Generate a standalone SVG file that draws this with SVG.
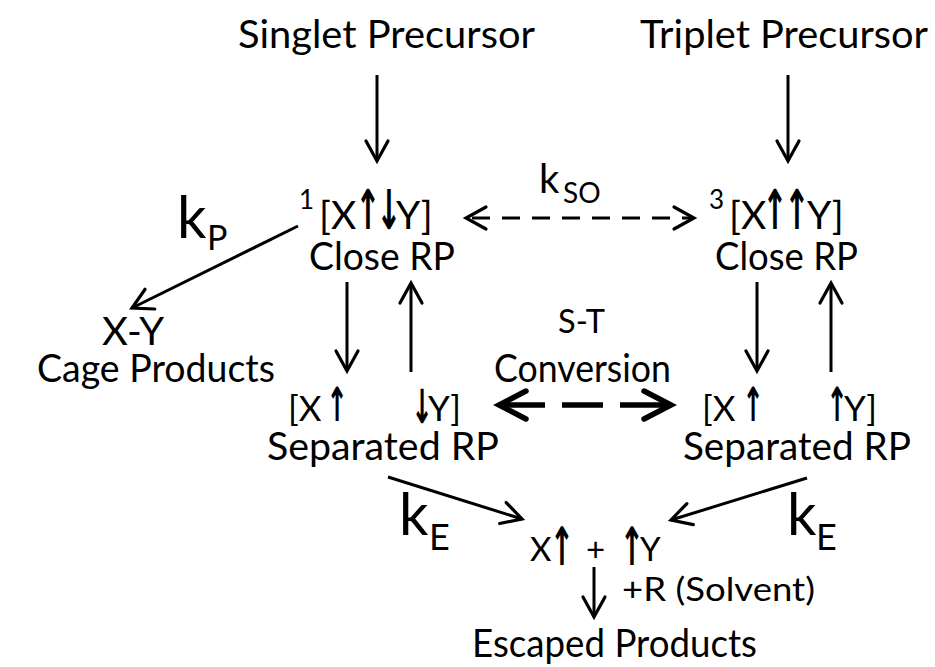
<svg xmlns="http://www.w3.org/2000/svg" width="935" height="667" viewBox="0 0 935 667">
<defs>
<style>
text{font-family:Lato,'Liberation Sans',sans-serif;fill:#000}
.lbl{font-size:38px}
.f{font-size:39px}
.s{font-size:35px}
.sup{font-size:26px}
.sp{font-family:'DejaVu Sans',sans-serif;font-weight:bold;text-anchor:middle}
.sp1{font-size:55px}
.sp2{font-size:47px}
.sp3{font-size:53px}
.ln{stroke:#000;stroke-width:3;fill:none}
.bd{stroke:#000;stroke-width:5.5;fill:none}
.ah{stroke:#000;fill:none;stroke-width:3.2;stroke-linecap:round;stroke-linejoin:miter}
.ahb{stroke:#000;fill:none;stroke-width:5.5;stroke-linecap:round;stroke-linejoin:miter}
</style>
<marker id="a" markerUnits="userSpaceOnUse" markerWidth="40" markerHeight="40" viewBox="-30 -20 40 40" refX="0" refY="0" orient="auto-start-reverse" overflow="visible"><path class="ah" d="M-20,-11 L0,0 L-20,11"/></marker>
<marker id="b" markerUnits="userSpaceOnUse" markerWidth="50" markerHeight="50" viewBox="-40 -25 50 50" refX="0" refY="0" orient="auto-start-reverse" overflow="visible"><path class="ahb" d="M-27,-14 L0,0 L-27,14"/></marker>
</defs>
<rect width="935" height="667" fill="#fff"/>

<g id="connectors">
<line class="ln" x1="377" y1="75" x2="377" y2="161" marker-end="url(#a)"/>
<line class="ln" x1="788" y1="75" x2="788" y2="161" marker-end="url(#a)"/>
<line class="ln" x1="466" y1="218" x2="694" y2="218" stroke-dasharray="18 12" stroke-dashoffset="-6" marker-start="url(#a)" marker-end="url(#a)"/>
<line class="ln" x1="298" y1="226" x2="132" y2="308" marker-end="url(#a)"/>
<line class="ln" x1="347" y1="282" x2="347" y2="371" marker-end="url(#a)"/>
<line class="ln" x1="411" y1="372" x2="411" y2="283" marker-end="url(#a)"/>
<line class="ln" x1="757" y1="282" x2="757" y2="371" marker-end="url(#a)"/>
<line class="ln" x1="831" y1="372" x2="831" y2="283" marker-end="url(#a)"/>
<path class="bd" d="M499,405 H545 M562,405 H603 M620,405 H671" marker-start="url(#b)" marker-end="url(#b)"/>
<line class="ln" x1="388" y1="477" x2="522" y2="519" marker-end="url(#a)"/>
<line class="ln" x1="807" y1="478" x2="671" y2="520" marker-end="url(#a)"/>
<line class="ln" x1="594" y1="567" x2="594" y2="617" marker-end="url(#a)"/>
</g>

<g id="singlet-precursor"><text class="lbl" x="238" y="48" textLength="297" lengthAdjust="spacingAndGlyphs">Singlet Precursor</text></g>
<g id="triplet-precursor"><text class="lbl" x="640" y="48" textLength="288" lengthAdjust="spacingAndGlyphs">Triplet Precursor</text></g>

<g id="singlet-close-rp">
<text class="sup" x="299" y="209">1</text>
<text class="f" x="319" y="229">[X</text>
<text class="sp sp1" transform="translate(368,229) scale(0.55,1)">↑</text>
<text class="sp sp1" transform="translate(389,229) scale(0.55,1)">↓</text>
<text class="f" x="396" y="229">Y]</text>
<text class="lbl" x="309" y="270" textLength="146" lengthAdjust="spacingAndGlyphs">Close RP</text>
</g>

<g id="triplet-close-rp">
<text class="sup" x="709" y="209">3</text>
<text class="f" x="729" y="229">[X</text>
<text class="sp sp1" transform="translate(775,229) scale(0.55,1)">↑</text>
<text class="sp sp1" transform="translate(797,229) scale(0.55,1)">↑</text>
<text class="f" x="807" y="229">Y]</text>
<text class="lbl" x="715" y="270" textLength="143" lengthAdjust="spacingAndGlyphs">Close RP</text>
</g>

<g id="kso"><text style="font-size:40px" x="539" y="193">k</text><text style="font-size:28px" x="563" y="203">SO</text></g>
<g id="kp"><text style="font-size:58px" x="177" y="238">k</text><text style="font-size:34px" x="207" y="250">P</text></g>

<g id="cage-products">
<text class="lbl" x="102" y="345" textLength="62" lengthAdjust="spacingAndGlyphs">X-Y</text>
<text class="lbl" x="37" y="382" textLength="238" lengthAdjust="spacingAndGlyphs">Cage Products</text>
</g>

<g id="st-conversion">
<text style="font-size:33px" x="558" y="333" textLength="47" lengthAdjust="spacingAndGlyphs">S-T</text>
<text class="lbl" x="494" y="382" textLength="177" lengthAdjust="spacingAndGlyphs">Conversion</text>
</g>

<g id="singlet-separated-rp">
<text class="s" x="288" y="421">[X</text>
<text class="sp sp2" transform="translate(337,421) scale(0.55,1)">↑</text>
<text class="sp sp2" transform="translate(422,423) scale(0.55,1)">↓</text>
<text class="s" x="428" y="421">Y]</text>
<text class="lbl" x="267" y="460" textLength="232" lengthAdjust="spacingAndGlyphs">Separated RP</text>
</g>

<g id="triplet-separated-rp">
<text class="s" x="702" y="421">[X</text>
<text class="sp sp2" transform="translate(753,421) scale(0.55,1)">↑</text>
<text class="sp sp2" transform="translate(837,421) scale(0.55,1)">↑</text>
<text class="s" x="844" y="421">Y]</text>
<text class="lbl" x="683" y="460" textLength="228" lengthAdjust="spacingAndGlyphs">Separated RP</text>
</g>

<g id="ke-left"><text style="font-size:58px" x="399" y="535">k</text><text style="font-size:36px" x="429" y="550">E</text></g>
<g id="ke-right"><text style="font-size:58px" x="787" y="535">k</text><text style="font-size:36px" x="816" y="550">E</text></g>

<g id="free-radicals">
<text style="font-size:33px" x="530" y="561">X</text>
<text class="sp sp3" transform="translate(562,565) scale(0.55,1)">↑</text>
<text style="font-size:33px" x="586" y="561">+</text>
<text class="sp sp3" transform="translate(632,565) scale(0.55,1)">↑</text>
<text style="font-size:33px" x="640" y="561">Y</text>
<text style="font-size:33px" x="622" y="601" textLength="193" lengthAdjust="spacingAndGlyphs">+R (Solvent)</text>
</g>

<g id="escaped-products"><text class="lbl" x="472" y="657" textLength="285" lengthAdjust="spacingAndGlyphs">Escaped Products</text></g>
</svg>
